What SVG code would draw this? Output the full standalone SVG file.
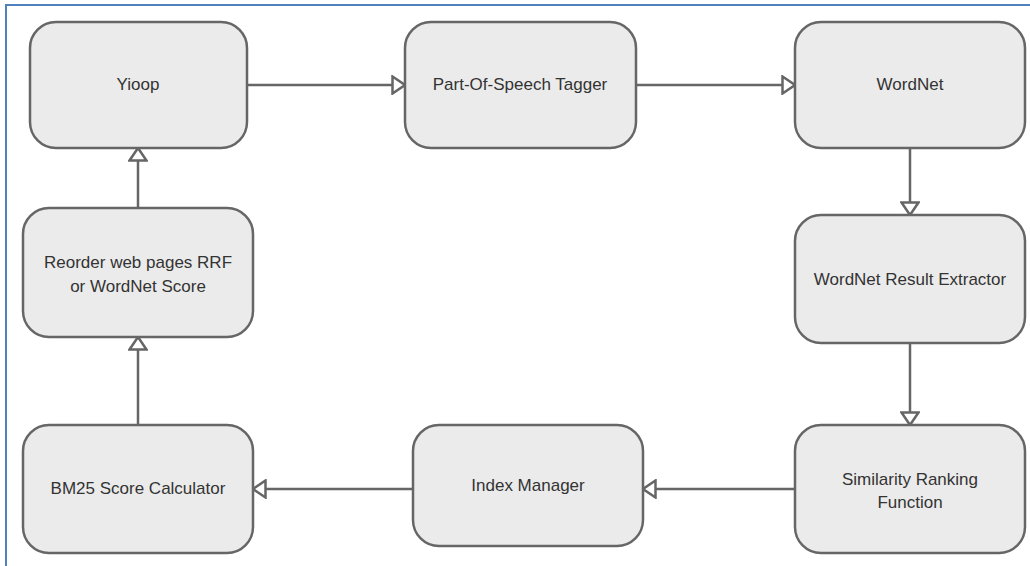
<svg xmlns="http://www.w3.org/2000/svg" width="1030" height="566" viewBox="0 0 1030 566">
<style>
.box{fill:#ebebeb;stroke:#666;stroke-width:2.5}
.lbl{font-family:"Liberation Sans",Arial,sans-serif;font-size:17px;fill:#333;text-anchor:middle}
.edge{fill:none;stroke:#666;stroke-width:2.5}
</style>
<defs>
<marker id="tri" markerWidth="16" markerHeight="20" refX="14" refY="10" orient="auto" markerUnits="userSpaceOnUse">
<path d="M1.5,1.5 L14,10 L1.5,18.5 Z" fill="#fff" stroke="#666" stroke-width="2.5"/>
</marker>
</defs>
<rect x="0" y="0" width="1030" height="566" fill="#fff"/>
<path d="M6,566 V5 H1030" fill="none" stroke="#4f81bd" stroke-width="2"/>
<g id="connectors">
<path class="edge" d="M247,85 H405" marker-end="url(#tri)"/>
<path class="edge" d="M636,85 H795" marker-end="url(#tri)"/>
<path class="edge" d="M910,148 V215" marker-end="url(#tri)"/>
<path class="edge" d="M910,343 V425" marker-end="url(#tri)"/>
<path class="edge" d="M795,489 H643" marker-end="url(#tri)"/>
<path class="edge" d="M413,489 H253" marker-end="url(#tri)"/>
<path class="edge" d="M138,425 V337" marker-end="url(#tri)"/>
<path class="edge" d="M138,208 V148" marker-end="url(#tri)"/>
</g>
<g id="yioop">
<rect class="box" x="30" y="22" width="217" height="126" rx="26"/>
<text class="lbl" x="138" y="90">Yioop</text>
</g>
<g id="pos">
<rect class="box" x="405" y="22" width="231" height="126" rx="26"/>
<text class="lbl" x="520" y="90">Part-Of-Speech Tagger</text>
</g>
<g id="wordnet">
<rect class="box" x="795" y="22" width="230" height="126" rx="26"/>
<text class="lbl" x="910" y="90">WordNet</text>
</g>
<g id="extractor">
<rect class="box" x="795" y="215" width="230" height="128" rx="26"/>
<text class="lbl" x="910" y="285">WordNet Result Extractor</text>
</g>
<g id="similarity">
<rect class="box" x="795" y="425" width="230" height="128" rx="26"/>
<text class="lbl" x="910" y="485">Similarity Ranking</text>
<text class="lbl" x="910" y="508">Function</text>
</g>
<g id="index">
<rect class="box" x="413" y="425" width="230" height="121" rx="26"/>
<text class="lbl" x="528" y="491">Index Manager</text>
</g>
<g id="bm25">
<rect class="box" x="23" y="425" width="230" height="128" rx="26"/>
<text class="lbl" x="138" y="494">BM25 Score Calculator</text>
</g>
<g id="reorder">
<rect class="box" x="23" y="208" width="230" height="129" rx="26"/>
<text class="lbl" x="138" y="268">Reorder web pages RRF</text>
<text class="lbl" x="138" y="292">or WordNet Score</text>
</g>
</svg>
